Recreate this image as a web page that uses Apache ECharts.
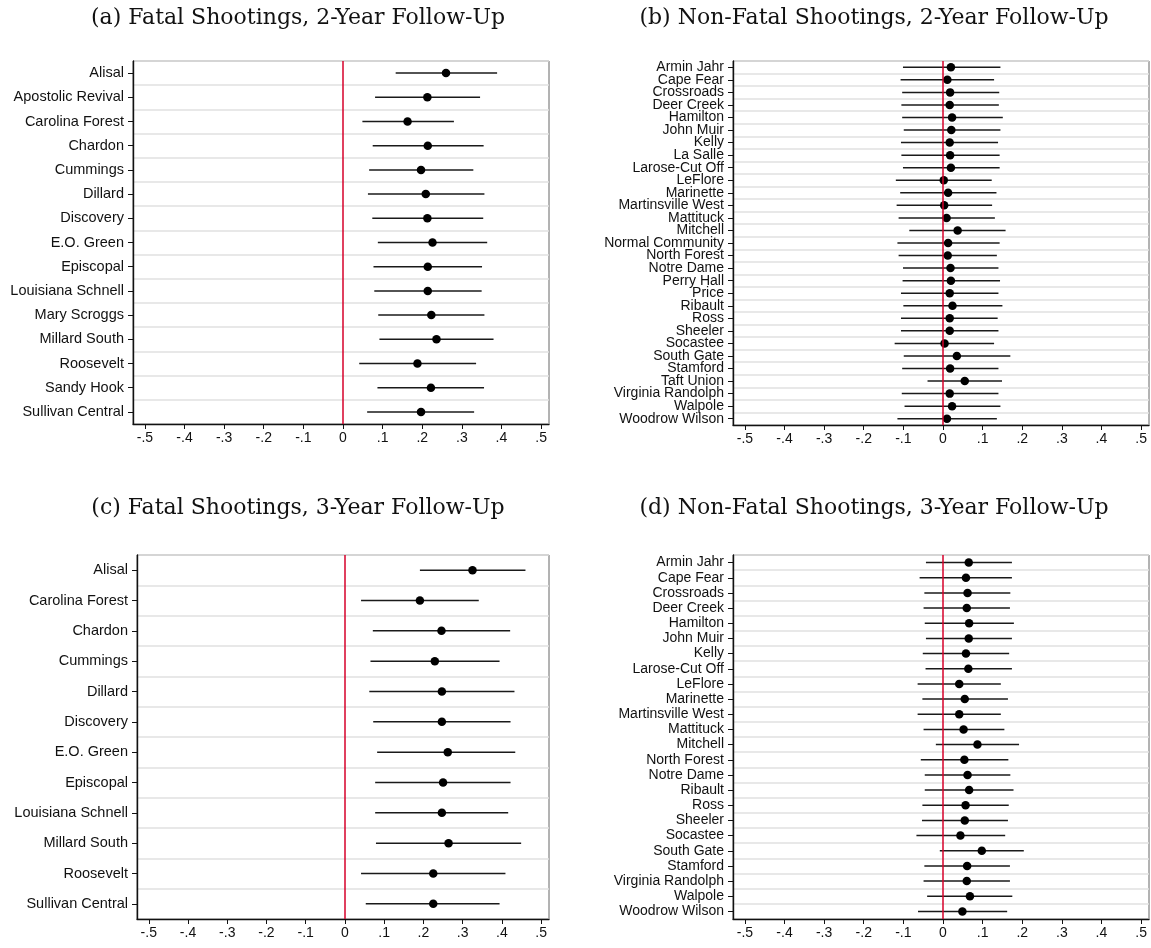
<!DOCTYPE html>
<html>
<head>
<meta charset="utf-8">
<script src="https://cdn.jsdelivr.net/npm/echarts@6/dist/echarts.min.js"></script>
<style>
html,body{margin:0;padding:0;background:#fff;}
#chart{width:1151px;height:948px;}
</style>
</head>
<body>
<div id="chart"></div>
<script>
// ---------- DATA ----------
const tickValues = [-0.5, -0.4, -0.3, -0.2, -0.1, 0, 0.1, 0.2, 0.3, 0.4, 0.5];
const tickLabels = ['-.5', '-.4', '-.3', '-.2', '-.1', '0', '.1', '.2', '.3', '.4', '.5'];

const panelTitles = [
  '(a) Fatal Shootings, 2-Year Follow-Up',
  '(b) Non-Fatal Shootings, 2-Year Follow-Up',
  '(c) Fatal Shootings, 3-Year Follow-Up',
  '(d) Non-Fatal Shootings, 3-Year Follow-Up'
];

// (a) Fatal, 2-year
const fatal2Cats = ['Alisal', 'Apostolic Revival', 'Carolina Forest', 'Chardon', 'Cummings', 'Dillard', 'Discovery', 'E.O. Green', 'Episcopal', 'Louisiana Schnell', 'Mary Scroggs', 'Millard South', 'Roosevelt', 'Sandy Hook', 'Sullivan Central'];
const fatal2Est = [0.260, 0.213, 0.163, 0.214, 0.197, 0.209, 0.213, 0.226, 0.214, 0.214, 0.223, 0.236, 0.188, 0.222, 0.197];
const fatal2Lo  = [0.133, 0.081, 0.049, 0.075, 0.066, 0.063, 0.074, 0.088, 0.077, 0.079, 0.089, 0.092, 0.041, 0.087, 0.061];
const fatal2Hi  = [0.389, 0.346, 0.280, 0.355, 0.329, 0.357, 0.354, 0.364, 0.351, 0.350, 0.357, 0.380, 0.336, 0.356, 0.331];

// (b) Non-fatal, 2-year
const nonfatal2Cats = ['Armin Jahr', 'Cape Fear', 'Crossroads', 'Deer Creek', 'Hamilton', 'John Muir', 'Kelly', 'La Salle', 'Larose-Cut Off', 'LeFlore', 'Marinette', 'Martinsville West', 'Mattituck', 'Mitchell', 'Normal Community', 'North Forest', 'Notre Dame', 'Perry Hall', 'Price', 'Ribault', 'Ross', 'Sheeler', 'Socastee', 'South Gate', 'Stamford', 'Taft Union', 'Virginia Randolph', 'Walpole', 'Woodrow Wilson'];
const nonfatal2Est = [0.020, 0.011, 0.018, 0.017, 0.023, 0.021, 0.017, 0.018, 0.020, 0.002, 0.013, 0.003, 0.009, 0.037, 0.013, 0.012, 0.019, 0.020, 0.017, 0.024, 0.017, 0.017, 0.004, 0.035, 0.018, 0.055, 0.017, 0.023, 0.010];
const nonfatal2Lo  = [-0.101, -0.107, -0.103, -0.105, -0.103, -0.099, -0.106, -0.105, -0.101, -0.119, -0.108, -0.117, -0.112, -0.085, -0.115, -0.112, -0.101, -0.102, -0.106, -0.100, -0.106, -0.106, -0.122, -0.099, -0.103, -0.039, -0.104, -0.097, -0.115];
const nonfatal2Hi  = [0.145, 0.129, 0.142, 0.141, 0.151, 0.145, 0.139, 0.143, 0.143, 0.123, 0.135, 0.124, 0.131, 0.158, 0.143, 0.136, 0.140, 0.144, 0.140, 0.150, 0.138, 0.140, 0.129, 0.170, 0.140, 0.149, 0.140, 0.145, 0.136];

// (c) Fatal, 3-year
const fatal3Cats = ['Alisal', 'Carolina Forest', 'Chardon', 'Cummings', 'Dillard', 'Discovery', 'E.O. Green', 'Episcopal', 'Louisiana Schnell', 'Millard South', 'Roosevelt', 'Sullivan Central'];
const fatal3Est = [0.325, 0.191, 0.246, 0.229, 0.247, 0.247, 0.262, 0.250, 0.247, 0.264, 0.225, 0.225];
const fatal3Lo  = [0.191, 0.041, 0.071, 0.065, 0.062, 0.072, 0.082, 0.077, 0.077, 0.079, 0.041, 0.053];
const fatal3Hi  = [0.460, 0.341, 0.421, 0.394, 0.432, 0.422, 0.434, 0.422, 0.416, 0.449, 0.409, 0.394];

// (d) Non-fatal, 3-year
const nonfatal3Cats = ['Armin Jahr', 'Cape Fear', 'Crossroads', 'Deer Creek', 'Hamilton', 'John Muir', 'Kelly', 'Larose-Cut Off', 'LeFlore', 'Marinette', 'Martinsville West', 'Mattituck', 'Mitchell', 'North Forest', 'Notre Dame', 'Ribault', 'Ross', 'Sheeler', 'Socastee', 'South Gate', 'Stamford', 'Virginia Randolph', 'Walpole', 'Woodrow Wilson'];
const nonfatal3Est = [0.065, 0.058, 0.062, 0.060, 0.066, 0.065, 0.058, 0.064, 0.041, 0.055, 0.041, 0.052, 0.087, 0.054, 0.062, 0.066, 0.057, 0.055, 0.044, 0.098, 0.061, 0.060, 0.068, 0.049];
const nonfatal3Lo  = [-0.043, -0.059, -0.047, -0.049, -0.046, -0.043, -0.051, -0.044, -0.064, -0.052, -0.064, -0.049, -0.018, -0.056, -0.046, -0.046, -0.052, -0.053, -0.067, -0.008, -0.047, -0.049, -0.040, -0.063];
const nonfatal3Hi  = [0.174, 0.174, 0.170, 0.169, 0.179, 0.174, 0.167, 0.174, 0.146, 0.164, 0.146, 0.155, 0.192, 0.165, 0.170, 0.178, 0.166, 0.164, 0.157, 0.204, 0.169, 0.169, 0.175, 0.162];

// ---------- LAYOUT / STYLE ----------
const panels = [
  { cats: fatal2Cats, est: fatal2Est, lo: fatal2Lo, hi: fatal2Hi, grid: { left: 133, top: 61, width: 416, height: 363 }, fs: 14.5 },
  { cats: nonfatal2Cats, est: nonfatal2Est, lo: nonfatal2Lo, hi: nonfatal2Hi, grid: { left: 733, top: 61, width: 416, height: 364 }, fs: 14 },
  { cats: fatal3Cats, est: fatal3Est, lo: fatal3Lo, hi: fatal3Hi, grid: { left: 137, top: 555, width: 412, height: 364 }, fs: 14.5 },
  { cats: nonfatal3Cats, est: nonfatal3Est, lo: nonfatal3Lo, hi: nonfatal3Hi, grid: { left: 733, top: 555, width: 416, height: 364 }, fs: 14 }
];
const titlePos = [[298, 18], [874, 18], [298, 508], [874, 508]];

const sansFont = '"Liberation Sans", Arial, Helvetica, sans-serif';
const serifFont = '"DejaVu Serif", "Liberation Serif", serif';
const XMIN = -0.53, XMAX = 0.52;

function tickLabel(v) {
  for (let i = 0; i < tickValues.length; i++) {
    if (Math.abs(tickValues[i] - v) < 1e-6) return tickLabels[i];
  }
  return '';
}

const grids = [], xAxes = [], yAxes = [], series = [];
panels.forEach((p, i) => {
  grids.push(Object.assign({ show: true, borderColor: '#666', borderWidth: 1, backgroundColor: 'transparent', containLabel: false }, p.grid));
  xAxes.push({
    type: 'value', gridIndex: i, min: XMIN, max: XMAX,
    axisLine: { show: true, onZero: false, lineStyle: { color: '#111', width: 1.4 } },
    axisTick: { show: true, customValues: tickValues, length: 5, lineStyle: { color: '#111', width: 1 } },
    axisLabel: { show: true, customValues: tickValues, formatter: tickLabel, fontFamily: sansFont, fontSize: 14, color: '#111', margin: 7 },
    splitLine: { show: false }
  });
  yAxes.push({
    type: 'category', gridIndex: i, data: p.cats, inverse: true, boundaryGap: true,
    axisLine: { show: true, onZero: false, lineStyle: { color: '#111', width: 1.4 } },
    axisTick: { show: true, alignWithLabel: true, length: 5, lineStyle: { color: '#111', width: 1 } },
    axisLabel: { show: true, interval: 0, fontFamily: sansFont, fontSize: p.fs, color: '#111', margin: 9 },
    splitLine: { show: true, interval: 0, lineStyle: { color: '#e1e1e1', width: 1.5 } }
  });
  // zero reference line
  series.push({
    type: 'scatter', xAxisIndex: i, yAxisIndex: i, data: [], z: 1, silent: true,
    markLine: {
      silent: true, symbol: ['none', 'none'], label: { show: false },
      lineStyle: { color: '#d6002a', width: 1.5, type: 'solid', opacity: 1 },
      data: [{ xAxis: 0 }], animation: false
    }
  });
  // confidence intervals
  series.push({
    type: 'custom', xAxisIndex: i, yAxisIndex: i, z: 2, silent: true,
    data: p.cats.map((c, k) => [p.lo[k], p.hi[k], k]),
    encode: { x: [0, 1], y: 2 },
    renderItem: function (params, api) {
      const a = api.coord([api.value(0), api.value(2)]);
      const b = api.coord([api.value(1), api.value(2)]);
      return { type: 'line', shape: { x1: a[0], y1: a[1], x2: b[0], y2: b[1] }, style: { stroke: '#1a1a1a', lineWidth: 1.5 } };
    }
  });
  // point estimates
  series.push({
    type: 'scatter', xAxisIndex: i, yAxisIndex: i, z: 3, silent: true,
    symbol: 'circle', symbolSize: 8.5,
    itemStyle: { color: '#000', opacity: 1 },
    data: p.est.map((v, k) => [v, k])
  });
});

const graphics = panelTitles.map((t, i) => ({
  type: 'text', x: titlePos[i][0], y: titlePos[i][1],
  style: { text: t, fill: '#111', font: '22px ' + serifFont, textAlign: 'center', textVerticalAlign: 'middle' }
}));

const chart = echarts.init(document.getElementById('chart'), null, { renderer: 'canvas' });
chart.setOption({
  animation: false,
  backgroundColor: '#fff',
  grid: grids,
  xAxis: xAxes,
  yAxis: yAxes,
  series: series,
  graphic: graphics
});
</script>
</body>
</html>
